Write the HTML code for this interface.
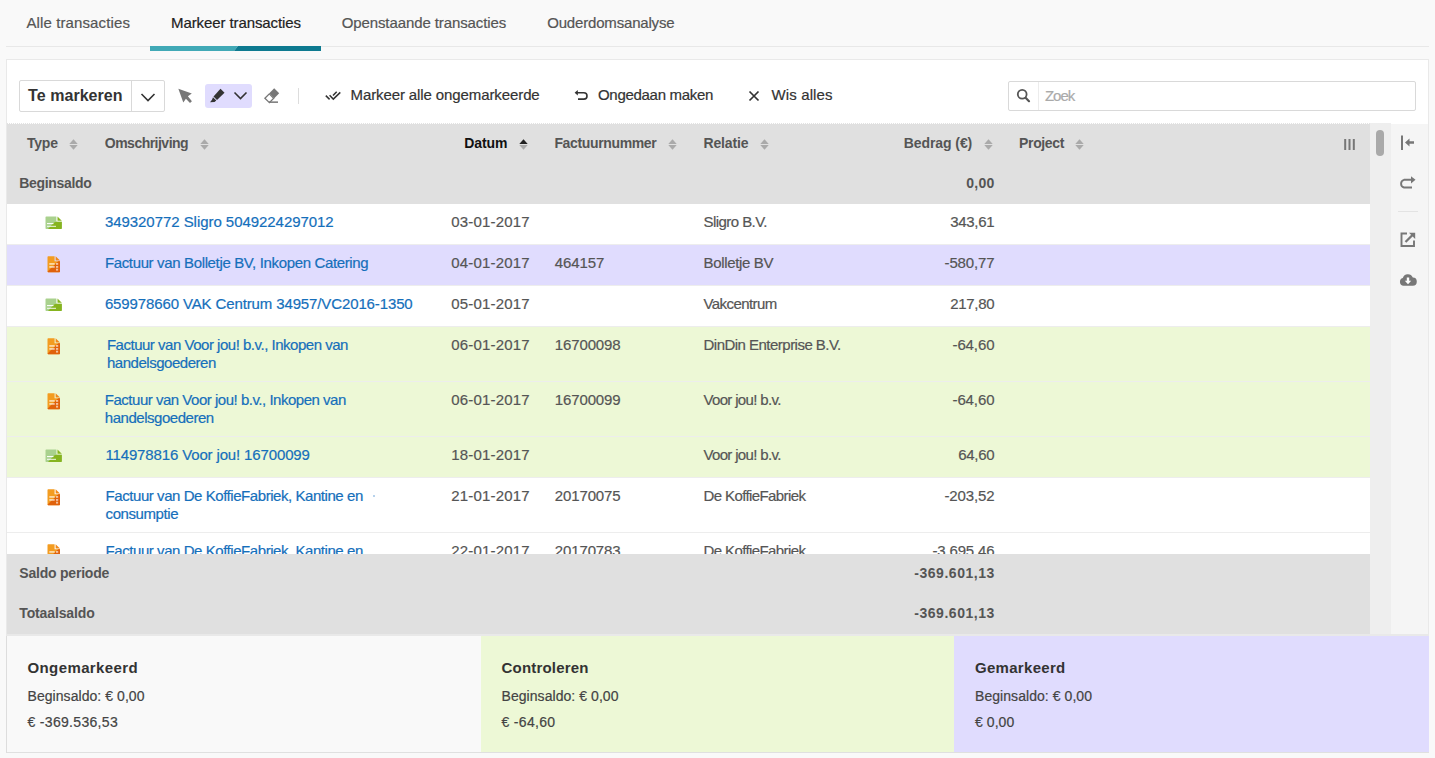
<!DOCTYPE html>
<html><head><meta charset="utf-8"><style>
html,body{margin:0;padding:0;}
body{width:1435px;height:758px;overflow:hidden;background:#f9f9f9;position:relative;font-family:"Liberation Sans",sans-serif;}
.t{position:absolute;white-space:nowrap;line-height:1;}
.r{position:absolute;}
svg.r{overflow:visible}
</style></head><body>
<div class="r" style="left:6px;top:46px;width:1423px;height:1px;background:#e8e8e8;"></div>
<div class="t" style="top:15.30px;font-size:15px;color:#555;-webkit-text-stroke:0.2px currentColor;letter-spacing:0.120px;left:26.40px;">Alle transacties</div>
<div class="t" style="top:15.30px;font-size:15px;color:#222;-webkit-text-stroke:0.2px currentColor;letter-spacing:-0.094px;left:171.00px;">Markeer transacties</div>
<div class="t" style="top:15.30px;font-size:15px;color:#555;-webkit-text-stroke:0.2px currentColor;letter-spacing:-0.102px;left:341.70px;">Openstaande transacties</div>
<div class="t" style="top:15.30px;font-size:15px;color:#555;-webkit-text-stroke:0.2px currentColor;letter-spacing:-0.177px;left:547.20px;">Ouderdomsanalyse</div>
<svg class="r" style="left:150px;top:46px;" width="171" height="5" viewBox="0 0 171 5"><polygon points="0,0 88,0 84,5 0,5" fill="#41a9b6"/><polygon points="88,0 171,0 171,5 84,5" fill="#0e7a90"/></svg>
<div class="r" style="left:6px;top:59px;width:1423px;height:694px;background:#fff;box-sizing:border-box;border:1px solid #e9e9e9;"></div>
<div class="r" style="left:19px;top:80px;width:146px;height:32px;background:#fff;box-sizing:border-box;border:1px solid #d9d9d9;border-radius:2px;"></div>
<div class="r" style="left:131px;top:81px;width:1px;height:30px;background:#d9d9d9;"></div>
<div class="t" style="top:88.06px;font-size:16px;color:#333;font-weight:bold;letter-spacing:0.050px;left:28.10px;">Te markeren</div>
<svg class="r" style="left:140px;top:92px;" width="16" height="11" viewBox="0 0 16 11"><polyline points="1.5,2 8,8.5 14.5,2" fill="none" stroke="#333" stroke-width="1.6"/></svg>
<svg class="r" style="left:177px;top:88px;" width="17" height="16" viewBox="0 0 17 16"><path d="M1.35,0.8 L14.8,5.6 L10.9,8.2 L14.9,13.2 L13,14.9 L8.9,10.8 L6.3,14.6 Z" fill="#777"/></svg>
<div class="r" style="left:205px;top:84px;width:47px;height:24px;background:#e0dcfe;border-radius:3px;"></div>
<svg class="r" style="left:209px;top:88px;" width="17" height="15" viewBox="0 0 17 15"><path d="M11.5,0.8 L15.5,4.8 L8,12 L4.5,8.5 Z" fill="#333"/><path d="M4,9.2 L7.3,12.5 L5.5,14 L1,14.2 L3,11.8 Z" fill="#333"/></svg>
<svg class="r" style="left:233px;top:91px;" width="16" height="10" viewBox="0 0 16 10"><polyline points="1.5,1.5 7.5,7.5 13.5,1.5" fill="none" stroke="#333" stroke-width="1.6"/></svg>
<svg class="r" style="left:263px;top:87px;" width="18" height="17" viewBox="0 0 18 17"><path d="M11.2,1.2 L16.2,6.3 L11.3,11.3 L6.3,6.2 Z" fill="#777"/><path d="M1.9,11.2 L6.3,6.8 L10.7,11.3 L6.4,15.6 Z" fill="#fff" stroke="#777" stroke-width="1.3"/><rect x="6" y="14.4" width="9" height="1.5" fill="#777"/></svg>
<div class="r" style="left:298px;top:88px;width:1px;height:16px;background:#ddd;"></div>
<svg class="r" style="left:324px;top:90px;" width="18" height="11" viewBox="0 0 18 11"><path d="M1.8,5.6 L5.6,9.4 M9,5.6 L12.7,1.7 M5.6,5.3 L9.3,9.1 L16.3,2.4" fill="none" stroke="#333" stroke-width="1.5"/></svg>
<div class="t" style="top:87.20px;font-size:15px;color:#333;-webkit-text-stroke:0.2px currentColor;letter-spacing:-0.102px;left:350.50px;">Markeer alle ongemarkeerde</div>
<svg class="r" style="left:573px;top:89px;" width="16" height="13" viewBox="0 0 16 13"><path d="M4,3.7 H10.8 A3.2,3.2 0 0 1 10.8,10.1 H5" fill="none" stroke="#333" stroke-width="1.6"/><path d="M1.6,3.7 L4.8,0.9 V6.5 Z" fill="#333"/></svg>
<div class="t" style="top:87.20px;font-size:15px;color:#333;-webkit-text-stroke:0.2px currentColor;letter-spacing:-0.296px;left:598.00px;">Ongedaan maken</div>
<svg class="r" style="left:748px;top:90px;" width="12" height="12" viewBox="0 0 12 12"><path d="M1.5,1.5 L10.5,10.5 M10.5,1.5 L1.5,10.5" stroke="#333" stroke-width="1.7"/></svg>
<div class="t" style="top:87.20px;font-size:15px;color:#333;-webkit-text-stroke:0.2px currentColor;letter-spacing:0.125px;left:771.50px;">Wis alles</div>
<div class="r" style="left:1008px;top:81px;width:408px;height:30px;background:#fff;box-sizing:border-box;border:1px solid #d9d9d9;border-radius:2px;"></div>
<svg class="r" style="left:1016px;top:88px;" width="16" height="15" viewBox="0 0 16 15"><circle cx="6.2" cy="6.3" r="4.4" fill="none" stroke="#555" stroke-width="1.8"/><path d="M9.6,9.8 L13,13.2" stroke="#555" stroke-width="2.2" stroke-linecap="round"/></svg>
<div class="r" style="left:1038px;top:82px;width:1px;height:28px;background:#ececec;"></div>
<div class="t" style="top:88.00px;font-size:15px;color:#aaa;-webkit-text-stroke:0.2px currentColor;letter-spacing:-1.000px;left:1044.90px;">Zoek</div>
<div class="r" style="left:7px;top:123px;width:1363px;height:81px;background:#e0e0e0;"></div>
<div class="r" style="left:7px;top:123px;width:1384px;height:1px;background:repeating-linear-gradient(90deg,#e2e2e2 0 1px,#fff 1px 2px);"></div>
<div class="r" style="left:1370px;top:123px;width:21px;height:511px;background:#eeeeee;"></div>
<div class="r" style="left:1376px;top:130px;width:8px;height:26px;background:#a9a9a9;border-radius:4px;"></div>
<div class="r" style="left:1391px;top:124px;width:37px;height:510px;background:#f5f5f5;"></div>
<div class="t" style="top:136.45px;font-size:14px;color:#555;font-weight:bold;letter-spacing:-0.217px;left:27.00px;">Type</div>
<svg class="r" style="left:69px;top:139px;" width="9" height="11" viewBox="0 0 9 11"><polygon points="0.3,5 4.5,0.2 8.7,5" fill="#aaa"/><polygon points="0.3,6 4.5,10.8 8.7,6" fill="#aaa"/></svg>
<div class="t" style="top:136.45px;font-size:14px;color:#555;font-weight:bold;letter-spacing:-0.514px;left:104.80px;">Omschrijving</div>
<svg class="r" style="left:200.3px;top:139px;" width="9" height="11" viewBox="0 0 9 11"><polygon points="0.3,5 4.5,0.2 8.7,5" fill="#aaa"/><polygon points="0.3,6 4.5,10.8 8.7,6" fill="#aaa"/></svg>
<div class="t" style="top:136.45px;font-size:14px;color:#111;font-weight:bold;letter-spacing:-0.112px;left:464.30px;">Datum</div>
<svg class="r" style="left:519px;top:139px;" width="9" height="11" viewBox="0 0 9 11"><polygon points="0.3,5 4.5,0.2 8.7,5" fill="#222"/><polygon points="0.3,6 4.5,10.8 8.7,6" fill="#aaa"/></svg>
<div class="t" style="top:136.45px;font-size:14px;color:#555;font-weight:bold;letter-spacing:-0.354px;left:554.40px;">Factuurnummer</div>
<svg class="r" style="left:668px;top:139px;" width="9" height="11" viewBox="0 0 9 11"><polygon points="0.3,5 4.5,0.2 8.7,5" fill="#aaa"/><polygon points="0.3,6 4.5,10.8 8.7,6" fill="#aaa"/></svg>
<div class="t" style="top:136.45px;font-size:14px;color:#555;font-weight:bold;letter-spacing:-0.117px;left:703.40px;">Relatie</div>
<svg class="r" style="left:759.5px;top:139px;" width="9" height="11" viewBox="0 0 9 11"><polygon points="0.3,5 4.5,0.2 8.7,5" fill="#aaa"/><polygon points="0.3,6 4.5,10.8 8.7,6" fill="#aaa"/></svg>
<div class="t" style="top:136.45px;font-size:14px;color:#555;font-weight:bold;letter-spacing:-0.072px;left:903.70px;">Bedrag (€)</div>
<svg class="r" style="left:983.5px;top:139px;" width="9" height="11" viewBox="0 0 9 11"><polygon points="0.3,5 4.5,0.2 8.7,5" fill="#aaa"/><polygon points="0.3,6 4.5,10.8 8.7,6" fill="#aaa"/></svg>
<div class="t" style="top:136.45px;font-size:14px;color:#555;font-weight:bold;letter-spacing:-0.375px;left:1019.10px;">Project</div>
<svg class="r" style="left:1075px;top:139px;" width="9" height="11" viewBox="0 0 9 11"><polygon points="0.3,5 4.5,0.2 8.7,5" fill="#aaa"/><polygon points="0.3,6 4.5,10.8 8.7,6" fill="#aaa"/></svg>
<svg class="r" style="left:1343px;top:138px;" width="13" height="13" viewBox="0 0 13 13"><rect x="1.2" y="1" width="2" height="11" fill="#777"/><rect x="5.5" y="1" width="2" height="11" fill="#777"/><rect x="9.8" y="1" width="2" height="11" fill="#777"/></svg>
<div class="t" style="top:175.75px;font-size:14px;color:#555;font-weight:bold;letter-spacing:-0.317px;left:19.20px;">Beginsaldo</div>
<div class="t" style="top:175.75px;font-size:14px;color:#555;font-weight:bold;letter-spacing:0.250px;left:966.30px;">0,00</div>
<div class="r" style="left:7px;top:204px;width:1363px;height:350px;overflow:hidden">
<div class="r" style="left:0px;top:0px;width:1363px;height:41px;background:#fff;"></div>
<div class="r" style="left:0px;top:40px;width:1363px;height:1px;background:#ededed;"></div>
<svg class="r" style="left:38px;top:12px;" width="18" height="14" viewBox="0 0 18 14"><path d="M0.5,1.3 Q0.5,0.5 1.3,0.5 H11.4 V5.8 H16.8 V12.2 Q16.8,13 16,13 H1.3 Q0.5,13 0.5,12.2 Z" fill="#a9d18e"/><path d="M16.8,5.8 V12.2 Q16.8,13 16,13 H3 L9,6.5 L11.4,5.8 Z" fill="#86b41f"/><path d="M12.5,0.5 L16.8,4.8 H12.5 Z" fill="#86b41f"/><rect x="2" y="7" width="6.5" height="1.1" fill="#fff" opacity="0.95"/><rect x="2" y="9.8" width="9" height="1.1" fill="#fff" opacity="0.8"/></svg>
<div class="t" style="top:10.30px;font-size:15px;color:#156fbb;-webkit-text-stroke:0.2px currentColor;letter-spacing:-0.048px;left:97.90px;">349320772 Sligro 5049224297012</div>
<div class="t" style="top:10.30px;font-size:15px;color:#555;-webkit-text-stroke:0.2px currentColor;letter-spacing:0.172px;left:444.30px;">03-01-2017</div>
<div class="t" style="top:10.30px;font-size:15px;color:#555;-webkit-text-stroke:0.2px currentColor;letter-spacing:-0.550px;left:696.50px;">Sligro B.V.</div>
<div class="t" style="top:10.30px;font-size:15px;color:#555;-webkit-text-stroke:0.2px currentColor;letter-spacing:-0.340px;left:943.30px;">343,61</div>
<div class="r" style="left:0px;top:41px;width:1363px;height:41px;background:#e0dcfe;"></div>
<div class="r" style="left:0px;top:81px;width:1363px;height:1px;background:#ededed;"></div>
<svg class="r" style="left:40px;top:52px;" width="14" height="17" viewBox="0 0 14 17"><path d="M0.5,1 Q0.5,0.3 1.2,0.3 H7.6 V5.3 H13 V15.6 Q13,16.3 12.3,16.3 H1.2 Q0.5,16.3 0.5,15.6 Z" fill="#f39c20"/><path d="M13,5.3 V15.6 Q13,16.3 12.3,16.3 H1.2 L0.6,15.4 L11.2,5.3 Z" fill="#e0620c"/><path d="M8.6,0.3 L13,4.4 H8.6 Z" fill="#f0891a"/><rect x="2.3" y="7.4" width="5.4" height="1.1" fill="#fff"/><rect x="9" y="7.4" width="2.2" height="1.1" fill="#fff"/><rect x="2.3" y="10.4" width="5.4" height="1.1" fill="#fff"/><rect x="9" y="10.4" width="2.2" height="1.1" fill="#fff"/><rect x="9" y="12.7" width="2.1" height="1.9" fill="#fff" opacity="0.6"/></svg>
<div class="t" style="top:51.30px;font-size:15px;color:#156fbb;-webkit-text-stroke:0.2px currentColor;letter-spacing:-0.354px;left:97.90px;">Factuur van Bolletje BV, Inkopen Catering</div>
<div class="t" style="top:51.30px;font-size:15px;color:#555;-webkit-text-stroke:0.2px currentColor;letter-spacing:0.172px;left:444.30px;">04-01-2017</div>
<div class="t" style="top:51.30px;font-size:15px;color:#555;-webkit-text-stroke:0.2px currentColor;letter-spacing:-0.090px;left:547.70px;">464157</div>
<div class="t" style="top:51.30px;font-size:15px;color:#555;-webkit-text-stroke:0.2px currentColor;letter-spacing:-0.335px;left:696.50px;">Bolletje BV</div>
<div class="t" style="top:51.30px;font-size:15px;color:#555;-webkit-text-stroke:0.2px currentColor;letter-spacing:-0.158px;left:937.60px;">-580,77</div>
<div class="r" style="left:0px;top:82px;width:1363px;height:41px;background:#fff;"></div>
<div class="r" style="left:0px;top:122px;width:1363px;height:1px;background:#ededed;"></div>
<svg class="r" style="left:38px;top:94px;" width="18" height="14" viewBox="0 0 18 14"><path d="M0.5,1.3 Q0.5,0.5 1.3,0.5 H11.4 V5.8 H16.8 V12.2 Q16.8,13 16,13 H1.3 Q0.5,13 0.5,12.2 Z" fill="#a9d18e"/><path d="M16.8,5.8 V12.2 Q16.8,13 16,13 H3 L9,6.5 L11.4,5.8 Z" fill="#86b41f"/><path d="M12.5,0.5 L16.8,4.8 H12.5 Z" fill="#86b41f"/><rect x="2" y="7" width="6.5" height="1.1" fill="#fff" opacity="0.95"/><rect x="2" y="9.8" width="9" height="1.1" fill="#fff" opacity="0.8"/></svg>
<div class="t" style="top:92.30px;font-size:15px;color:#156fbb;-webkit-text-stroke:0.2px currentColor;letter-spacing:-0.122px;left:97.90px;">659978660 VAK Centrum 34957/VC2016-1350</div>
<div class="t" style="top:92.30px;font-size:15px;color:#555;-webkit-text-stroke:0.2px currentColor;letter-spacing:0.172px;left:444.30px;">05-01-2017</div>
<div class="t" style="top:92.30px;font-size:15px;color:#555;-webkit-text-stroke:0.2px currentColor;letter-spacing:-0.578px;left:696.50px;">Vakcentrum</div>
<div class="t" style="top:92.30px;font-size:15px;color:#555;-webkit-text-stroke:0.2px currentColor;letter-spacing:-0.340px;left:943.30px;">217,80</div>
<div class="r" style="left:0px;top:123px;width:1363px;height:55px;background:#edf8d6;"></div>
<div class="r" style="left:0px;top:177px;width:1363px;height:1px;background:#ededed;"></div>
<svg class="r" style="left:40px;top:134px;" width="14" height="17" viewBox="0 0 14 17"><path d="M0.5,1 Q0.5,0.3 1.2,0.3 H7.6 V5.3 H13 V15.6 Q13,16.3 12.3,16.3 H1.2 Q0.5,16.3 0.5,15.6 Z" fill="#f39c20"/><path d="M13,5.3 V15.6 Q13,16.3 12.3,16.3 H1.2 L0.6,15.4 L11.2,5.3 Z" fill="#e0620c"/><path d="M8.6,0.3 L13,4.4 H8.6 Z" fill="#f0891a"/><rect x="2.3" y="7.4" width="5.4" height="1.1" fill="#fff"/><rect x="9" y="7.4" width="2.2" height="1.1" fill="#fff"/><rect x="2.3" y="10.4" width="5.4" height="1.1" fill="#fff"/><rect x="9" y="10.4" width="2.2" height="1.1" fill="#fff"/><rect x="9" y="12.7" width="2.1" height="1.9" fill="#fff" opacity="0.6"/></svg>
<div class="t" style="top:133.30px;font-size:15px;color:#156fbb;-webkit-text-stroke:0.2px currentColor;letter-spacing:-0.483px;left:99.90px;">Factuur van Voor jou! b.v., Inkopen van</div>
<div class="t" style="top:151.30px;font-size:15px;color:#156fbb;-webkit-text-stroke:0.2px currentColor;letter-spacing:-0.468px;left:99.90px;">handelsgoederen</div>
<div class="t" style="top:133.30px;font-size:15px;color:#555;-webkit-text-stroke:0.2px currentColor;letter-spacing:0.172px;left:444.30px;">06-01-2017</div>
<div class="t" style="top:133.30px;font-size:15px;color:#555;-webkit-text-stroke:0.2px currentColor;letter-spacing:-0.107px;left:547.70px;">16700098</div>
<div class="t" style="top:133.30px;font-size:15px;color:#555;-webkit-text-stroke:0.2px currentColor;letter-spacing:-0.519px;left:696.50px;">DinDin Enterprise B.V.</div>
<div class="t" style="top:133.30px;font-size:15px;color:#555;-webkit-text-stroke:0.2px currentColor;letter-spacing:-0.110px;left:945.50px;">-64,60</div>
<div class="r" style="left:0px;top:178px;width:1363px;height:55px;background:#edf8d6;"></div>
<div class="r" style="left:0px;top:232px;width:1363px;height:1px;background:#ededed;"></div>
<svg class="r" style="left:40px;top:189px;" width="14" height="17" viewBox="0 0 14 17"><path d="M0.5,1 Q0.5,0.3 1.2,0.3 H7.6 V5.3 H13 V15.6 Q13,16.3 12.3,16.3 H1.2 Q0.5,16.3 0.5,15.6 Z" fill="#f39c20"/><path d="M13,5.3 V15.6 Q13,16.3 12.3,16.3 H1.2 L0.6,15.4 L11.2,5.3 Z" fill="#e0620c"/><path d="M8.6,0.3 L13,4.4 H8.6 Z" fill="#f0891a"/><rect x="2.3" y="7.4" width="5.4" height="1.1" fill="#fff"/><rect x="9" y="7.4" width="2.2" height="1.1" fill="#fff"/><rect x="2.3" y="10.4" width="5.4" height="1.1" fill="#fff"/><rect x="9" y="10.4" width="2.2" height="1.1" fill="#fff"/><rect x="9" y="12.7" width="2.1" height="1.9" fill="#fff" opacity="0.6"/></svg>
<div class="t" style="top:188.30px;font-size:15px;color:#156fbb;-webkit-text-stroke:0.2px currentColor;letter-spacing:-0.483px;left:97.80px;">Factuur van Voor jou! b.v., Inkopen van</div>
<div class="t" style="top:206.30px;font-size:15px;color:#156fbb;-webkit-text-stroke:0.2px currentColor;letter-spacing:-0.468px;left:97.80px;">handelsgoederen</div>
<div class="t" style="top:188.30px;font-size:15px;color:#555;-webkit-text-stroke:0.2px currentColor;letter-spacing:0.172px;left:444.30px;">06-01-2017</div>
<div class="t" style="top:188.30px;font-size:15px;color:#555;-webkit-text-stroke:0.2px currentColor;letter-spacing:-0.107px;left:547.70px;">16700099</div>
<div class="t" style="top:188.30px;font-size:15px;color:#555;-webkit-text-stroke:0.2px currentColor;letter-spacing:-0.665px;left:696.50px;">Voor jou! b.v.</div>
<div class="t" style="top:188.30px;font-size:15px;color:#555;-webkit-text-stroke:0.2px currentColor;letter-spacing:-0.110px;left:945.50px;">-64,60</div>
<div class="r" style="left:0px;top:233px;width:1363px;height:41px;background:#edf8d6;"></div>
<div class="r" style="left:0px;top:273px;width:1363px;height:1px;background:#ededed;"></div>
<svg class="r" style="left:38px;top:245px;" width="18" height="14" viewBox="0 0 18 14"><path d="M0.5,1.3 Q0.5,0.5 1.3,0.5 H11.4 V5.8 H16.8 V12.2 Q16.8,13 16,13 H1.3 Q0.5,13 0.5,12.2 Z" fill="#a9d18e"/><path d="M16.8,5.8 V12.2 Q16.8,13 16,13 H3 L9,6.5 L11.4,5.8 Z" fill="#86b41f"/><path d="M12.5,0.5 L16.8,4.8 H12.5 Z" fill="#86b41f"/><rect x="2" y="7" width="6.5" height="1.1" fill="#fff" opacity="0.95"/><rect x="2" y="9.8" width="9" height="1.1" fill="#fff" opacity="0.8"/></svg>
<div class="t" style="top:243.30px;font-size:15px;color:#156fbb;-webkit-text-stroke:0.2px currentColor;letter-spacing:-0.139px;left:98.40px;">114978816 Voor jou! 16700099</div>
<div class="t" style="top:243.30px;font-size:15px;color:#555;-webkit-text-stroke:0.2px currentColor;letter-spacing:0.172px;left:444.30px;">18-01-2017</div>
<div class="t" style="top:243.30px;font-size:15px;color:#555;-webkit-text-stroke:0.2px currentColor;letter-spacing:-0.665px;left:696.50px;">Voor jou! b.v.</div>
<div class="t" style="top:243.30px;font-size:15px;color:#555;-webkit-text-stroke:0.2px currentColor;letter-spacing:-0.337px;left:951.30px;">64,60</div>
<div class="r" style="left:0px;top:274px;width:1363px;height:55px;background:#fff;"></div>
<div class="r" style="left:0px;top:328px;width:1363px;height:1px;background:#ededed;"></div>
<svg class="r" style="left:40px;top:285px;" width="14" height="17" viewBox="0 0 14 17"><path d="M0.5,1 Q0.5,0.3 1.2,0.3 H7.6 V5.3 H13 V15.6 Q13,16.3 12.3,16.3 H1.2 Q0.5,16.3 0.5,15.6 Z" fill="#f39c20"/><path d="M13,5.3 V15.6 Q13,16.3 12.3,16.3 H1.2 L0.6,15.4 L11.2,5.3 Z" fill="#e0620c"/><path d="M8.6,0.3 L13,4.4 H8.6 Z" fill="#f0891a"/><rect x="2.3" y="7.4" width="5.4" height="1.1" fill="#fff"/><rect x="9" y="7.4" width="2.2" height="1.1" fill="#fff"/><rect x="2.3" y="10.4" width="5.4" height="1.1" fill="#fff"/><rect x="9" y="10.4" width="2.2" height="1.1" fill="#fff"/><rect x="9" y="12.7" width="2.1" height="1.9" fill="#fff" opacity="0.6"/></svg>
<div class="t" style="top:284.30px;font-size:15px;color:#156fbb;-webkit-text-stroke:0.2px currentColor;letter-spacing:-0.442px;left:98.60px;">Factuur van De KoffieFabriek, Kantine en</div>
<div class="t" style="top:302.30px;font-size:15px;color:#156fbb;-webkit-text-stroke:0.2px currentColor;letter-spacing:-0.422px;left:98.60px;">consumptie</div>
<div class="t" style="top:284.30px;font-size:15px;color:#555;-webkit-text-stroke:0.2px currentColor;letter-spacing:0.172px;left:444.30px;">21-01-2017</div>
<div class="t" style="top:284.30px;font-size:15px;color:#555;-webkit-text-stroke:0.2px currentColor;letter-spacing:-0.107px;left:547.70px;">20170075</div>
<div class="t" style="top:284.30px;font-size:15px;color:#555;-webkit-text-stroke:0.2px currentColor;letter-spacing:-0.600px;left:696.50px;">De KoffieFabriek</div>
<div class="t" style="top:284.30px;font-size:15px;color:#555;-webkit-text-stroke:0.2px currentColor;letter-spacing:-0.142px;left:937.50px;">-203,52</div>
<div class="r" style="left:0px;top:329px;width:1363px;height:55px;background:#fff;"></div>
<div class="r" style="left:0px;top:383px;width:1363px;height:1px;background:#ededed;"></div>
<svg class="r" style="left:40px;top:340px;" width="14" height="17" viewBox="0 0 14 17"><path d="M0.5,1 Q0.5,0.3 1.2,0.3 H7.6 V5.3 H13 V15.6 Q13,16.3 12.3,16.3 H1.2 Q0.5,16.3 0.5,15.6 Z" fill="#f39c20"/><path d="M13,5.3 V15.6 Q13,16.3 12.3,16.3 H1.2 L0.6,15.4 L11.2,5.3 Z" fill="#e0620c"/><path d="M8.6,0.3 L13,4.4 H8.6 Z" fill="#f0891a"/><rect x="2.3" y="7.4" width="5.4" height="1.1" fill="#fff"/><rect x="9" y="7.4" width="2.2" height="1.1" fill="#fff"/><rect x="2.3" y="10.4" width="5.4" height="1.1" fill="#fff"/><rect x="9" y="10.4" width="2.2" height="1.1" fill="#fff"/><rect x="9" y="12.7" width="2.1" height="1.9" fill="#fff" opacity="0.6"/></svg>
<div class="t" style="top:339.30px;font-size:15px;color:#156fbb;-webkit-text-stroke:0.2px currentColor;letter-spacing:-0.442px;left:98.60px;">Factuur van De KoffieFabriek, Kantine en</div>
<div class="t" style="top:357.30px;font-size:15px;color:#156fbb;-webkit-text-stroke:0.2px currentColor;letter-spacing:-0.422px;left:98.60px;">consumptie</div>
<div class="t" style="top:339.30px;font-size:15px;color:#555;-webkit-text-stroke:0.2px currentColor;letter-spacing:0.172px;left:444.30px;">22-01-2017</div>
<div class="t" style="top:339.30px;font-size:15px;color:#555;-webkit-text-stroke:0.2px currentColor;letter-spacing:-0.107px;left:547.70px;">20170783</div>
<div class="t" style="top:339.30px;font-size:15px;color:#555;-webkit-text-stroke:0.2px currentColor;letter-spacing:-0.600px;left:696.50px;">De KoffieFabriek</div>
<div class="t" style="top:339.30px;font-size:15px;color:#555;-webkit-text-stroke:0.2px currentColor;letter-spacing:-0.175px;left:925.50px;">-3.695,46</div>
<div class="r" style="left:366px;top:291px;width:2px;height:2px;background:#9fc3e6;border-radius:1px"></div>
</div>
<div class="r" style="left:7px;top:554px;width:1363px;height:80px;background:#e0e0e0;"></div>
<div class="t" style="top:566.15px;font-size:14px;color:#555;font-weight:bold;letter-spacing:-0.212px;left:19.30px;">Saldo periode</div>
<div class="t" style="top:566.15px;font-size:14px;color:#555;font-weight:bold;letter-spacing:0.525px;left:914.30px;">-369.601,13</div>
<div class="t" style="top:606.15px;font-size:14px;color:#555;font-weight:bold;letter-spacing:-0.135px;left:19.30px;">Totaalsaldo</div>
<div class="t" style="top:606.15px;font-size:14px;color:#555;font-weight:bold;letter-spacing:0.525px;left:914.30px;">-369.601,13</div>
<svg class="r" style="left:1400px;top:135px;" width="15" height="16" viewBox="0 0 15 16"><rect x="1" y="0.5" width="2" height="14.5" fill="#777"/><path d="M5,7.5 L9.5,3.5 V6.3 H14 V8.7 H9.5 V11.5 Z" fill="#777"/></svg>
<svg class="r" style="left:1398px;top:175px;" width="19" height="14" viewBox="0 0 19 14"><path d="M14,4.8 H6 A4,4 0 0 0 6,12.5 H14" fill="none" stroke="#777" stroke-width="1.9"/><path d="M13,1.2 L17.5,4.8 L13,8.4 Z" fill="#777"/></svg>
<div class="r" style="left:1398px;top:211px;width:20px;height:1px;background:#e3e3e3;"></div>
<svg class="r" style="left:1400px;top:232px;" width="16" height="16" viewBox="0 0 16 16"><path d="M7,1.5 H1.5 V14 H14 V8.5" fill="none" stroke="#777" stroke-width="1.9"/><path d="M5.5,10 L12.5,3" stroke="#777" stroke-width="2.3"/><path d="M9,0.8 H15.2 V7 Z" fill="#777"/></svg>
<svg class="r" style="left:1399px;top:272px;" width="18" height="15" viewBox="0 0 18 15"><path d="M4.5,13.8 A4,4 0 0 1 3.8,6 A5.3,5.3 0 0 1 13.8,5.6 A4.1,4.1 0 0 1 13.6,13.8 Z" fill="#777"/><path d="M7.8,5.5 H10.2 V8.8 H12.2 L9,12.2 L5.8,8.8 H7.8 Z" fill="#fff"/></svg>
<div class="r" style="left:6px;top:634px;width:1423px;height:2px;background:#e9e9e9;"></div>
<div class="r" style="left:7px;top:636px;width:474px;height:116px;background:#f9f9f9;"></div>
<div class="r" style="left:481px;top:636px;width:473px;height:116px;background:#edf8d6;"></div>
<div class="r" style="left:954px;top:636px;width:475px;height:116px;background:#e0dcfe;"></div>
<div class="r" style="left:6px;top:752px;width:1423px;height:1px;background:#e0e0e0;"></div>
<div class="r" style="left:6px;top:636px;width:1px;height:117px;background:#dddddd;"></div>
<div class="t" style="top:660.30px;font-size:15px;color:#333;font-weight:bold;letter-spacing:0.391px;left:27.50px;">Ongemarkeerd</div>
<div class="t" style="top:689.45px;font-size:14px;color:#444;-webkit-text-stroke:0.2px currentColor;letter-spacing:0.059px;left:27.50px;">Beginsaldo: € 0,00</div>
<div class="t" style="top:715.25px;font-size:14px;color:#444;-webkit-text-stroke:0.2px currentColor;letter-spacing:0.317px;left:27.50px;">€ -369.536,53</div>
<div class="t" style="top:660.30px;font-size:15px;color:#333;font-weight:bold;letter-spacing:0.190px;left:501.50px;">Controleren</div>
<div class="t" style="top:689.45px;font-size:14px;color:#444;-webkit-text-stroke:0.2px currentColor;letter-spacing:0.059px;left:501.50px;">Beginsaldo: € 0,00</div>
<div class="t" style="top:715.25px;font-size:14px;color:#444;-webkit-text-stroke:0.2px currentColor;letter-spacing:0.321px;left:501.50px;">€ -64,60</div>
<div class="t" style="top:660.30px;font-size:15px;color:#333;font-weight:bold;letter-spacing:0.294px;left:975.00px;">Gemarkeerd</div>
<div class="t" style="top:689.45px;font-size:14px;color:#444;-webkit-text-stroke:0.2px currentColor;letter-spacing:0.059px;left:975.00px;">Beginsaldo: € 0,00</div>
<div class="t" style="top:715.25px;font-size:14px;color:#444;-webkit-text-stroke:0.2px currentColor;letter-spacing:0.060px;left:975.00px;">€ 0,00</div>
</body></html>
